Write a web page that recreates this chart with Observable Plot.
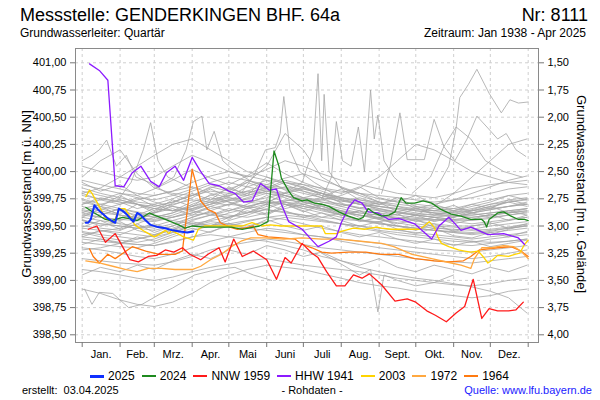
<!DOCTYPE html>
<html><head><meta charset="utf-8">
<script src="https://cdn.jsdelivr.net/npm/d3@7"></script>
<script src="https://cdn.jsdelivr.net/npm/@observablehq/plot@0.6"></script>
<style>
body{margin:0;background:#fff;font-family:"Liberation Sans",Arial,sans-serif;}
#wrap{position:relative;width:600px;height:400px;overflow:hidden;background:#fff;}
#wrap svg{position:absolute;left:0;top:0;}
.t{position:absolute;white-space:nowrap;color:#000;line-height:1;}
.leg{position:absolute;left:90px;top:369px;display:flex;align-items:center;font-size:12px;line-height:14px;}
.leg .it{display:flex;align-items:center;margin-right:7px;}
.leg .sw{display:inline-block;width:14px;margin-right:4px;}
</style></head><body><div id="wrap"></div>
<script>
// ---------- texts ----------
const title = "Messstelle: GENDERKINGEN BHF. 64a";
const stationNr = "Nr: 8111";
const aquifer = "Grundwasserleiter: Quartär";
const period = "Zeitraum: Jan 1938 - Apr 2025";
const yLabelLeft = "Grundwasserstand [m ü. NN]";
const yLabelRight = "Grundwasserstand [m u. Gelände]";
const created = "erstellt:  03.04.2025";
const dataKind = "- Rohdaten -";
const source = "Quelle: www.lfu.bayern.de";

// ---------- axes ----------
const monthNames = ["Jan.","Feb.","Mrz.","Apr.","Mai","Juni","Juli","Aug.","Sept.","Okt.","Nov.","Dez."];
const monthStarts = [0,31,59,90,120,151,181,212,243,273,304,334,365];
const levelTicks = [398.5,398.75,399,399.25,399.5,399.75,400,400.25,400.5,400.75,401];
const depthTicks = [1.5,1.75,2,2.25,2.5,2.75,3,3.25,3.5,3.75,4];
const groundLevel = 402.5;

// ---------- highlighted years: [day of year, level m ü. NN] ----------
const y2025 = [[3,399.53],[5,399.53],[7,399.56],[10,399.69],[13,399.65],[17,399.61],[21,399.57],[25,399.54],[27,399.53],[30,399.66],[33,399.64],[37,399.60],[40,399.56],[42,399.54],[45,399.62],[48,399.60],[52,399.55],[56,399.51],[62,399.49],[68,399.48],[74,399.46],[80,399.45],[86,399.44],[91,399.45]];
const y2024 = [[3,399.67],[10,399.62],[19,399.56],[24,399.55],[33,399.58],[42,399.56],[45,399.55],[55,399.62],[59,399.60],[68,399.56],[79,399.51],[84,399.48],[90,399.50],[100,399.49],[122,399.49],[131,399.47],[145,399.50],[152,399.54],[157,400.19],[161,400.05],[163,399.94],[169,399.82],[173,399.76],[180,399.73],[184,399.74],[190,399.71],[196,399.70],[202,399.68],[210,399.63],[218,399.59],[226,399.56],[230,399.58],[234,399.66],[239,399.62],[245,399.59],[251,399.60],[256,399.63],[261,399.76],[265,399.71],[272,399.71],[279,399.73],[286,399.71],[294,399.65],[302,399.61],[310,399.59],[318,399.56],[327,399.56],[329,399.54],[331,399.49],[333,399.56],[340,399.62],[345,399.63],[351,399.59],[357,399.56],[362,399.56],[365,399.55]];
const nnw1959 = [[5,399.47],[12,399.50],[19,399.35],[27,399.43],[33,399.31],[39,399.19],[46,399.17],[54,399.22],[61,399.23],[68,399.28],[75,399.26],[82,399.30],[88,399.24],[97,399.19],[103,399.24],[112,399.30],[117,399.17],[124,399.38],[131,399.22],[140,399.27],[151,399.19],[159,399.01],[166,399.21],[171,399.16],[180,399.34],[188,399.25],[193,399.21],[200,399.08],[208,398.95],[215,398.95],[222,399.05],[229,399.02],[235,399.06],[245,398.96],[256,398.81],[266,398.83],[273,398.80],[282,398.72],[289,398.68],[298,398.62],[306,398.70],[313,398.76],[320,399.01],[327,398.65],[333,398.74],[340,398.72],[349,398.72],[355,398.73],[361,398.80]];
const hhw1941 = [[6,400.99],[14,400.93],[21,400.84],[27,399.87],[34,399.86],[41,399.99],[48,400.05],[56,399.91],[63,399.86],[69,399.99],[76,400.05],[83,399.92],[90,400.13],[97,400.00],[104,399.89],[112,399.87],[120,399.82],[125,399.80],[132,399.72],[139,399.73],[146,399.89],[153,399.83],[159,399.84],[163,399.70],[169,399.54],[180,399.47],[188,399.37],[193,399.31],[202,399.36],[208,399.40],[212,399.53],[218,399.67],[223,399.74],[229,399.71],[234,399.63],[242,399.62],[251,399.56],[259,399.57],[272,399.52],[286,399.38],[292,399.50],[300,399.58],[306,399.51],[310,399.46],[318,399.49],[332,399.42],[345,399.43],[357,399.39],[362,399.33]];
const y2003 = [[3,399.77],[6,399.83],[8,399.80],[14,399.68],[19,399.57],[26,399.53],[30,399.66],[35,399.66],[39,399.59],[43,399.51],[51,399.45],[59,399.40],[64,399.43],[68,399.46],[71,399.43],[73,399.46],[83,399.40],[91,399.37],[95,399.47],[100,399.50],[122,399.50],[131,399.50],[139,399.53],[147,399.50],[154,399.51],[163,399.50],[182,399.50],[196,399.50],[199,399.43],[208,399.43],[212,399.45],[222,399.48],[231,399.47],[241,399.49],[245,399.48],[253,399.47],[264,399.47],[276,399.47],[280,399.50],[284,399.54],[288,399.49],[291,399.40],[294,399.34],[300,399.31],[308,399.28],[313,399.27],[318,399.26],[324,399.27],[328,399.22],[332,399.16],[336,399.19],[340,399.23],[349,399.22],[354,399.24],[358,399.25],[362,399.33],[365,399.37]];
const y1972 = [[3,399.18],[14,399.16],[25,399.13],[36,399.10],[45,399.08],[54,399.11],[65,399.11],[76,399.10],[90,399.10],[97,399.13],[105,399.19],[114,399.24],[122,399.31],[130,399.36],[138,399.39],[150,399.39],[165,399.38],[180,399.39],[196,399.38],[210,399.38],[228,399.36],[245,399.34],[255,399.31],[270,399.24],[286,399.20],[302,399.16],[310,399.14],[318,399.11],[321,399.20],[327,399.30],[335,399.30],[345,399.32],[353,399.31],[359,399.27],[365,399.20]];
const y1964 = [[6,399.29],[9,399.22],[14,399.16],[21,399.24],[27,399.20],[41,399.31],[52,399.27],[63,399.24],[76,399.24],[82,399.27],[90,400.02],[97,399.73],[103,399.65],[109,399.62],[113,399.53],[121,399.49],[127,399.47],[133,399.48],[140,399.50],[144,399.42],[152,399.40],[163,399.39],[174,399.38],[180,399.33],[188,399.30],[196,399.26],[204,399.25],[218,399.26],[232,399.26],[245,399.24],[259,399.24],[272,399.20],[280,399.19],[288,399.18],[300,399.17],[312,399.18],[318,399.22],[325,399.28],[340,399.30],[351,399.31],[359,399.27],[365,399.22]];

const seriesNames  = ["2025","2024","NNW 1959","HHW 1941","2003","1972","1964"];
const seriesColors = ["#1030ff","#1e8a1e","#ff1a1a","#8c1aff","#ffd400","#ffa840","#ff7a10"];
const seriesData   = [y2025, y2024, nnw1959, hhw1941, y2003, y1972, y1964];

// ---------- other years (grey), semi-monthly readings ----------
const greyDays = [0,15,31,45,59,74,90,105,120,135,151,166,181,196,212,227,243,258,273,288,304,319,334,349,364];
const greyLevels = [
 [399.62,399.58,399.55,399.60,399.66,399.70,399.74,399.72,399.69,399.75,399.80,399.78,399.72,399.68,399.63,399.60,399.57,399.55,399.52,399.50,399.49,399.47,399.50,399.52,399.54],
 [399.75,399.70,399.66,399.63,399.60,399.58,399.62,399.68,399.73,399.78,399.84,399.90,399.86,399.80,399.74,399.70,399.66,399.62,399.60,399.58,399.56,399.55,399.57,399.60,399.63],
 [399.45,399.42,399.40,399.38,399.41,399.47,399.52,399.55,399.58,399.62,399.65,399.63,399.60,399.56,399.52,399.48,399.45,399.42,399.40,399.38,399.36,399.35,399.38,399.40,399.42],
 [399.85,399.80,399.76,399.72,399.70,399.75,399.82,399.88,399.84,399.80,399.85,399.92,399.88,399.82,399.76,399.72,399.68,399.65,399.62,399.60,399.63,399.66,399.70,399.74,399.76],
 [399.55,399.52,399.50,399.48,399.46,399.50,399.56,399.60,399.64,399.68,399.72,399.70,399.66,399.62,399.58,399.55,399.52,399.50,399.48,399.46,399.45,399.44,399.46,399.48,399.50],
 [399.95,400.10,400.20,399.98,399.85,399.80,399.78,399.85,399.90,399.86,399.82,399.78,399.75,399.72,399.70,399.66,399.64,399.62,399.60,399.58,399.60,399.65,399.70,399.72,399.74],
 [399.70,399.74,399.80,399.78,399.72,399.68,399.65,399.70,399.78,399.82,399.80,399.76,399.70,399.66,399.62,399.60,399.58,399.57,399.56,399.55,399.58,399.62,399.65,399.68,399.70],
 [399.38,399.36,399.34,399.33,399.32,399.36,399.40,399.45,399.50,399.54,399.58,399.56,399.52,399.48,399.45,399.42,399.40,399.38,399.36,399.34,399.33,399.32,399.34,399.36,399.38],
 [399.60,399.65,399.70,399.74,399.78,399.82,399.86,399.80,399.76,399.72,399.76,399.80,399.84,399.80,399.75,399.70,399.66,399.63,399.60,399.58,399.56,399.58,399.60,399.62,399.64],
 [399.50,399.48,399.46,399.52,399.58,399.55,399.52,399.50,399.55,399.60,399.66,399.72,399.68,399.64,399.60,399.56,399.53,399.50,399.48,399.46,399.44,399.42,399.44,399.46,399.48],
 [400.05,400.00,399.95,399.92,399.95,400.05,400.15,400.08,400.00,399.95,400.02,400.10,400.05,399.98,399.92,399.88,399.84,399.80,399.78,399.76,399.80,399.85,399.88,399.90,399.92],
 [399.10,399.08,399.05,399.02,399.00,399.03,399.08,399.12,399.15,399.18,399.20,399.17,399.14,399.12,399.10,399.08,399.05,399.02,399.00,398.98,398.96,398.95,398.97,399.00,399.02],
 [398.92,398.88,398.82,398.78,398.76,398.80,398.88,398.98,399.05,399.10,399.14,399.12,399.10,399.06,399.02,398.98,398.95,398.93,398.90,398.88,398.86,398.84,398.86,398.90,398.92],
 [399.30,399.28,399.25,399.22,399.20,399.24,399.30,399.36,399.40,399.44,399.48,399.46,399.42,399.40,399.36,399.33,399.30,399.28,399.26,399.24,399.22,399.20,399.22,399.25,399.28],
 [399.65,399.62,399.60,399.58,399.56,399.60,399.66,399.72,399.80,399.90,400.05,400.35,400.20,399.95,399.85,399.78,399.72,399.68,399.64,399.62,399.60,399.58,399.60,399.62,399.64],
 [399.78,399.75,399.72,399.70,399.68,399.72,399.78,399.82,399.80,399.78,399.82,399.86,399.84,399.80,399.76,399.74,399.72,399.70,399.68,399.66,399.64,399.62,399.65,399.68,399.72],
 [399.55,399.52,399.50,399.48,399.50,399.55,399.60,399.62,399.60,399.58,399.62,399.66,399.70,399.74,399.78,399.85,399.95,400.10,400.25,400.20,400.10,400.00,399.95,399.90,399.88],
 [399.42,399.45,399.48,399.55,399.62,399.68,399.64,399.60,399.58,399.62,399.68,399.72,399.70,399.65,399.60,399.56,399.52,399.50,399.48,399.46,399.44,399.43,399.45,399.48,399.50],
 [399.88,399.84,399.80,399.76,399.74,399.78,399.84,399.90,399.95,399.92,399.88,399.85,399.82,399.78,399.74,399.70,399.68,399.66,399.64,399.62,399.62,399.64,399.68,399.72,399.75],
 [399.35,399.33,399.31,399.30,399.34,399.40,399.46,399.50,399.52,399.55,399.58,399.60,399.58,399.55,399.52,399.50,399.46,399.44,399.42,399.40,399.38,399.36,399.35,399.36,399.38],
 [399.60,399.58,399.56,399.55,399.54,399.58,399.62,399.66,399.70,399.68,399.65,399.62,399.60,399.58,399.56,399.55,399.54,399.56,399.60,399.68,399.80,399.95,400.10,400.25,400.30],
 [399.72,399.68,399.64,399.60,399.58,399.62,399.68,399.74,399.78,399.82,399.88,399.94,399.98,399.92,399.86,399.80,399.75,399.72,399.70,399.68,399.66,399.64,399.66,399.68,399.70],
 [399.48,399.46,399.44,399.42,399.40,399.44,399.50,399.54,399.52,399.50,399.54,399.58,399.56,399.54,399.52,399.50,399.48,399.46,399.44,399.42,399.40,399.38,399.40,399.42,399.44],
 [399.80,399.85,399.95,400.05,400.15,400.25,400.30,400.20,400.10,400.00,399.95,399.90,399.85,399.80,399.76,399.72,399.70,399.68,399.66,399.64,399.62,399.60,399.62,399.64,399.66],
 [399.20,399.18,399.16,399.15,399.14,399.17,399.22,399.28,399.32,399.35,399.38,399.36,399.33,399.30,399.28,399.26,399.24,399.22,399.20,399.18,399.17,399.16,399.18,399.20,399.22],
 [399.40,399.38,399.35,399.33,399.32,399.35,399.40,399.42,399.40,399.38,399.36,399.32,399.28,399.22,399.18,399.12,399.08,399.05,399.02,399.00,398.97,398.94,398.90,398.84,398.70],
 [399.66,399.70,399.74,399.70,399.66,399.64,399.68,399.72,399.76,399.74,399.72,399.70,399.68,399.66,399.64,399.62,399.60,399.58,399.57,399.56,399.55,399.56,399.58,399.60,399.62],
 [399.58,399.55,399.52,399.50,399.48,399.52,399.58,399.64,399.70,399.76,399.82,399.80,399.76,399.72,399.68,399.64,399.62,399.60,399.58,399.56,399.54,399.52,399.54,399.56,399.58],
 [399.52,399.60,399.66,399.62,399.58,399.62,399.70,399.76,399.72,399.68,399.72,399.78,399.74,399.70,399.66,399.62,399.60,399.57,399.55,399.52,399.50,399.50,399.52,399.55,399.58],
 [399.82,399.78,399.74,399.70,399.66,399.64,399.66,399.70,399.74,399.80,399.86,399.84,399.80,399.76,399.73,399.70,399.68,399.66,399.65,399.64,399.66,399.70,399.74,399.78,399.80],
 [399.44,399.40,399.37,399.35,399.38,399.44,399.50,399.56,399.62,399.66,399.70,399.74,399.72,399.68,399.64,399.60,399.56,399.53,399.50,399.48,399.47,399.46,399.47,399.49,399.52],
 [399.68,399.64,399.60,399.57,399.55,399.58,399.64,399.70,399.74,399.72,399.70,399.73,399.76,399.74,399.70,399.67,399.65,399.63,399.61,399.60,399.59,399.60,399.62,399.64,399.66],
 [399.92,399.88,399.84,399.80,399.78,399.82,399.90,399.96,400.00,399.96,399.92,399.90,399.88,399.85,399.82,399.80,399.78,399.76,399.74,399.72,399.74,399.76,399.80,399.84,399.86],
 [399.28,399.30,399.34,399.38,399.42,399.46,399.50,399.52,399.50,399.48,399.46,399.44,399.42,399.40,399.38,399.36,399.34,399.32,399.30,399.28,399.27,399.26,399.28,399.30,399.32],
 [399.58,399.66,399.61,399.70,399.64,399.74,399.68,399.79,399.72,399.66,399.74,399.70,399.63,399.69,399.60,399.64,399.57,399.61,399.54,399.58,399.52,399.56,399.61,399.55,399.60],
 [399.74,399.68,399.78,399.70,399.62,399.69,399.76,399.84,399.77,399.86,399.92,399.83,399.76,399.80,399.71,399.66,399.72,399.63,399.67,399.60,399.64,399.70,399.66,399.74,399.70],
 [399.49,399.55,399.47,399.52,399.44,399.50,399.58,399.63,399.56,399.67,399.61,399.70,399.64,399.58,399.62,399.54,399.58,399.50,399.46,399.52,399.45,399.49,399.42,399.47,399.51],
 [399.64,399.60,399.66,399.58,399.63,399.71,399.80,399.74,399.86,399.78,399.95,399.88,399.82,399.76,399.84,399.74,399.70,399.76,399.68,399.64,399.69,399.62,399.67,399.72,399.68],
 [399.40,399.46,399.42,399.48,399.52,399.46,399.55,399.60,399.66,399.62,399.70,399.64,399.58,399.62,399.55,399.50,399.54,399.47,399.43,399.48,399.41,399.39,399.44,399.40,399.45],
 [399.90,399.82,399.88,399.78,399.84,399.92,400.02,399.94,399.88,399.96,400.08,399.98,399.90,399.84,399.80,399.86,399.76,399.72,399.78,399.70,399.74,399.80,399.86,399.92,399.96],
 [399.56,399.50,399.54,399.46,399.42,399.48,399.54,399.50,399.58,399.64,399.60,399.68,399.74,399.66,399.60,399.64,399.56,399.52,399.56,399.49,399.46,399.50,399.53,399.48,399.52],
 [399.70,399.76,399.72,399.66,399.70,399.64,399.72,399.78,399.84,399.90,399.84,399.78,399.72,399.76,399.68,399.72,399.64,399.60,399.66,399.62,399.58,399.64,399.68,399.62,399.66],
 [399.33,399.38,399.34,399.40,399.36,399.42,399.48,399.44,399.52,399.48,399.56,399.50,399.46,399.50,399.44,399.40,399.44,399.38,399.34,399.38,399.32,399.36,399.31,399.34,399.37],
 [399.80,399.74,399.70,399.76,399.68,399.72,399.78,399.86,399.82,399.92,399.86,399.80,399.86,399.78,399.72,399.76,399.70,399.74,399.66,399.70,399.64,399.68,399.72,399.78,399.74],
 [399.62,399.68,399.60,399.56,399.62,399.66,399.60,399.68,399.64,399.70,399.78,399.72,399.66,399.70,399.64,399.58,399.62,399.56,399.60,399.54,399.58,399.62,399.58,399.64,399.60],
 [399.05,399.12,399.08,399.14,399.10,399.18,399.24,399.20,399.28,399.24,399.32,399.28,399.22,399.26,399.18,399.14,399.20,399.12,399.08,399.14,399.10,399.06,399.12,399.08,399.14]
];
// grey years with short peaks (own reading dates)
const greySpikes = [
 [[290,399.85],[300,400.05],[306,400.40],[309,400.68],[316,400.80],[323,400.94],[333,400.72],[343,400.54],[350,400.66],[357,400.63],[365,400.64]],
 [[150,399.70],[165,399.80],[180,399.90],[189,400.20],[193,400.90],[196,400.10],[198,400.71],[202,400.00],[212,399.85],[227,399.80],[243,399.72]],
 [[196,399.75],[204,399.95],[208,400.46],[213,400.10],[220,400.05],[226,400.41],[231,400.00],[236,400.75],[239,400.30],[242,400.52],[247,400.10],[255,399.95],[265,399.85]],
 [[245,399.80],[252,400.05],[260,400.54],[266,400.11],[280,400.11],[288,400.48],[296,400.23],[306,400.41],[318,400.30],[330,400.10],[345,400.00],[360,399.95]],
 [[130,399.80],[140,399.95],[150,400.20],[158,400.22],[162,400.35],[165,400.69],[170,400.20],[178,400.00],[190,399.90],[205,399.80]],
 [[60,399.85],[75,399.95],[85,400.20],[91,400.46],[98,400.51],[102,400.20],[108,400.37],[115,400.10],[125,400.00],[140,399.90],[155,399.85]],
 [[30,399.75],[40,399.90],[50,400.20],[56,400.45],[62,400.10],[70,399.95],[80,399.90],[90,399.85]],
 [[0,400.10],[8,400.15],[14,400.20],[20,400.29],[28,400.05],[36,400.15],[44,399.95],[55,399.90],[70,399.80],[85,399.75]],
 [[270,399.80],[285,399.95],[296,400.23],[305,400.10],[315,400.30],[323,400.51],[332,400.40],[340,400.30],[347,400.35],[355,400.20],[363,400.14]],
 [[196,399.25],[212,399.15],[227,399.05],[236,399.10],[242,398.71],[247,399.05],[258,399.00],[273,398.95],[288,398.98],[304,399.05]],
 [[2,398.92],[8,398.78],[14,398.89],[25,398.88],[38,398.75],[49,398.78],[63,398.87],[74,398.93],[92,399.05],[110,399.10],[125,399.12],[140,399.05],[155,399.00]]
];

// ---------- build ----------
const fmt2 = v => (Math.round(v*100)/100).toFixed(2).replace(".", ",");
const greyRows = [];
greyLevels.forEach((vals,i) => vals.forEach((v,j) => greyRows.push({s:"g"+i, day:greyDays[j], v})));
greySpikes.forEach((pts,i) => pts.forEach(([d,v]) => greyRows.push({s:"s"+i, day:d, v})));
const toRows = arr => arr.map(([d,v]) => ({day:d, v}));
const monthMids = monthNames.map((_,i) => (monthStarts[i]+monthStarts[i+1])/2);
const depthPos = depthTicks.map(d => groundLevel - d);

const drawOrder = [6,5,4,3,2,1,0];
const gridStyle = {stroke:"#cfcfcf", strokeOpacity:1, strokeDasharray:"3,3", strokeWidth:1};

const chart = Plot.plot({
  width:600, height:400,
  marginLeft:75, marginRight:62, marginTop:48, marginBottom:58,
  x:{domain:[0,365], range:[81.7,527.7]},
  y:{domain:[398.5,401], range:[334.3,62.3]},
  style:{fontFamily:"'Liberation Sans', Arial, sans-serif", color:"#000", background:"transparent", overflow:"visible"},
  marks:[
    Plot.gridY(levelTicks, gridStyle),
    Plot.gridX(monthStarts, gridStyle),
    Plot.line(greyRows, {x:"day", y:"v", z:"s", stroke:"#a6a6a6", strokeWidth:0.8}),
    ...drawOrder.map(i => Plot.line(toRows(seriesData[i]), {x:"day", y:"v", stroke:seriesColors[i], strokeWidth: i===0 ? 2 : 1.3})),
    Plot.frame({stroke:"#8a8a8a"}),
    Plot.axisY(levelTicks, {anchor:"left", tickFormat:fmt2, tickSize:5, tickPadding:4, label:null, fontSize:11, stroke:"#777"}),
    Plot.axisY(depthPos, {anchor:"right", tickFormat:d => fmt2(groundLevel - d), tickSize:5, tickPadding:4, label:null, fontSize:11, stroke:"#777"}),
    Plot.axisX(monthStarts, {anchor:"bottom", tickFormat:() => "", tickSize:5, label:null, stroke:"#777"}),
    Plot.axisX(monthMids, {anchor:"bottom", tickSize:0, tickPadding:8, tickFormat:d => monthNames[monthMids.indexOf(d)], label:null, fontSize:11})
  ]
});

const wrap = document.getElementById("wrap");
wrap.appendChild(chart);

function addText(txt, css){
  const el = document.createElement("div");
  el.className = "t";
  el.textContent = txt;
  Object.assign(el.style, css);
  wrap.appendChild(el);
  return el;
}
addText(title, {left:"20px", top:"6px", fontSize:"18px"});
addText(stationNr, {right:"12px", top:"6px", fontSize:"18px"});
addText(aquifer, {left:"20px", top:"27px", fontSize:"12px"});
addText(period, {right:"14px", top:"27px", fontSize:"12px"});
addText(yLabelLeft, {left:"26px", top:"194px", fontSize:"13px", transform:"translate(-50%,-50%) rotate(-90deg)"});
addText(yLabelRight, {left:"581px", top:"194px", fontSize:"13px", transform:"translate(-50%,-50%) rotate(90deg)"});
addText(created, {left:"22px", top:"385px", fontSize:"11px", whiteSpace:"pre"});
addText(dataKind, {left:"312px", top:"385px", fontSize:"11px", transform:"translateX(-50%)"});
addText(source, {right:"8px", top:"385px", fontSize:"11px", color:"#1a1aff"});

const leg = document.createElement("div");
leg.className = "leg";
seriesNames.forEach((n,i) => {
  const it = document.createElement("div"); it.className = "it";
  const sw = document.createElement("span"); sw.className = "sw";
  sw.style.height = (i===0 ? 3 : 2) + "px"; sw.style.background = seriesColors[i];
  const tx = document.createElement("span"); tx.textContent = n;
  it.appendChild(sw); it.appendChild(tx); leg.appendChild(it);
});
wrap.appendChild(leg);
</script></body></html>
